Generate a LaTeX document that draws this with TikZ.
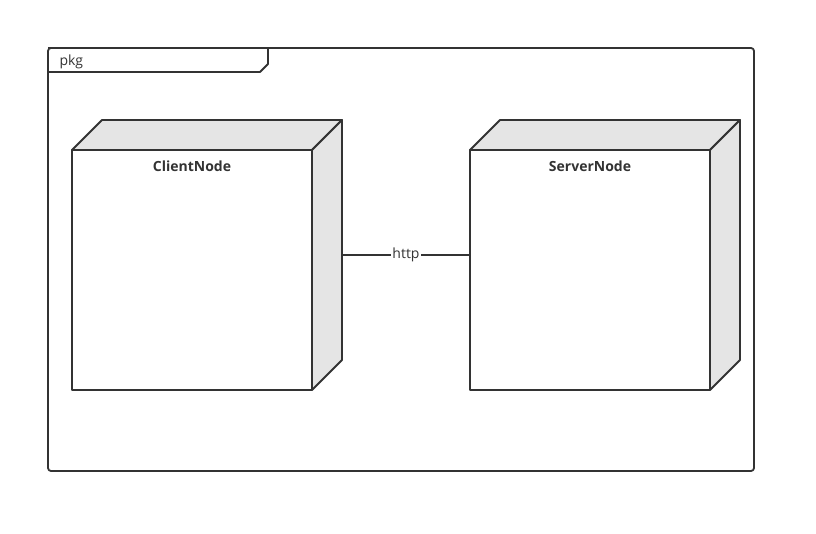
\documentclass[tikz,border=0pt]{standalone}
\usepackage{fontspec}
\setmainfont{Open Sans}
\begin{document}
\begin{tikzpicture}[x=1pt,y=-1pt,
  edge/.style={draw=black!80,line width=1.8pt,line join=round},
  face/.style={edge,fill=black!10},
  front/.style={edge,fill=white},
  box/.style={minimum width=270pt,minimum height=270pt,inner sep=0pt,outer sep=0pt},
  lbl/.style={font=\fontsize{14}{16}\selectfont\bfseries,text=black!80},
  txt/.style={font=\fontsize{14}{16}\selectfont,text=black!80}]
\useasboundingbox (0,0) rectangle (816,534);
% package frame
\draw[edge,rounded corners=3pt] (48,48) rectangle (754,471);
\draw[edge] (48,48) -- (268,48) -- (268,64) -- (260,72) -- (48,72);
\node[txt,anchor=base west] (pkg) at (56,66) {pkg};
% client node
\node[box] (client) at (207,255) {};
\draw[face] (72,150) -- (102,120) -- (342,120) -- (312,150) -- cycle;
\draw[face] (312,150) -- (342,120) -- (342,360) -- (312,390) -- cycle;
\draw[front] (72,150) rectangle (312,390);
\node[lbl] (clientlbl) at (192,166) {ClientNode};
% server node
\node[box] (server) at (605,255) {};
\draw[face] (470,150) -- (500,120) -- (740,120) -- (710,150) -- cycle;
\draw[face] (710,150) -- (740,120) -- (740,360) -- (710,390) -- cycle;
\draw[front] (470,150) rectangle (710,390);
\node[lbl] (serverlbl) at (590,166) {ServerNode};
% connector
\draw[edge] (client.east) -- node[txt,fill=white,inner sep=1pt] (http) {http} (server.west);
\end{tikzpicture}
\end{document}
